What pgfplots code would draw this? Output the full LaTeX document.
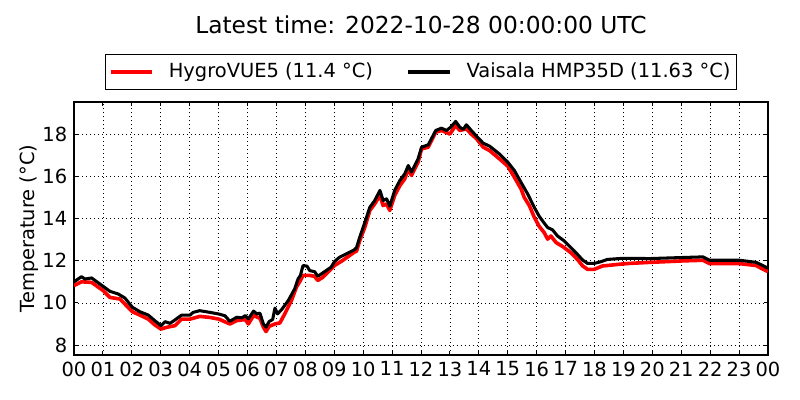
\documentclass[border=0pt]{standalone}
\usepackage{fontspec}
\setmainfont{DejaVu Sans}
\usepackage{pgfplots}
\pgfplotsset{compat=1.18}
\pgfplotstableread{
h T
0.00 10.82
0.26 11.00
0.61 10.97
1.01 10.58
1.24 10.26
1.59 10.18
2.02 9.58
2.28 9.42
2.57 9.23
2.80 8.95
3.01 8.76
3.20 8.84
3.49 8.92
3.72 9.23
4.01 9.23
4.35 9.36
4.70 9.31
5.01 9.23
5.39 9.00
5.62 9.16
5.92 9.21
6.03 9.00
6.21 9.40
6.43 9.27
6.55 8.85
6.64 8.64
6.75 8.89
6.95 9.00
7.12 9.05
7.29 9.48
7.52 10.11
7.69 10.74
7.83 11.06
7.92 11.30
8.15 11.30
8.32 11.26
8.43 11.06
8.61 11.22
8.78 11.45
9.01 11.77
9.29 12.01
9.69 12.40
9.77 12.45
9.88 12.95
10.06 13.59
10.23 14.38
10.40 14.69
10.58 15.09
10.69 14.61
10.81 14.69
10.92 14.38
11.09 15.09
11.27 15.56
11.44 15.88
11.56 16.35
11.67 16.04
11.90 16.67
12.02 17.30
12.25 17.38
12.51 18.09
12.71 18.17
13.00 18.00
13.20 18.41
13.34 18.17
13.57 18.25
13.74 18.00
13.92 17.78
14.15 17.38
14.37 17.22
14.71 16.83
15.00 16.48
15.23 15.95
15.46 15.40
15.57 15.00
15.75 14.60
15.92 14.05
16.09 13.62
16.26 13.33
16.38 13.02
16.49 13.17
16.67 12.86
16.90 12.67
17.18 12.38
17.41 12.06
17.59 11.75
17.76 11.59
17.99 11.59
18.28 11.75
18.51 11.78
18.85 11.83
19.20 11.87
19.91 11.92
21.06 11.99
21.75 12.02
21.98 11.86
23.02 11.86
23.59 11.77
23.82 11.60
24.00 11.48
}\hygro
\pgfplotstableread{
h T
0.00 11.00
0.26 11.24
0.38 11.13
0.61 11.18
1.01 10.78
1.24 10.55
1.53 10.42
1.76 10.23
2.02 9.79
2.28 9.58
2.57 9.42
2.80 9.15
3.01 8.92
3.15 9.11
3.32 9.03
3.49 9.19
3.72 9.42
4.01 9.42
4.12 9.55
4.35 9.63
4.70 9.55
5.01 9.47
5.22 9.39
5.39 9.13
5.63 9.32
5.81 9.29
5.92 9.40
6.03 9.24
6.21 9.61
6.32 9.48
6.43 9.51
6.55 9.00
6.64 8.85
6.75 9.12
6.87 9.21
6.95 9.75
7.04 9.48
7.18 9.68
7.41 10.11
7.63 10.66
7.75 11.14
7.83 11.30
7.92 11.77
8.06 11.74
8.15 11.53
8.32 11.48
8.43 11.26
8.55 11.37
8.72 11.53
8.89 11.69
9.01 11.96
9.18 12.16
9.41 12.32
9.69 12.51
9.77 12.62
9.88 13.11
10.06 13.82
10.23 14.53
10.40 14.85
10.58 15.33
10.69 14.85
10.81 14.93
10.92 14.58
11.09 15.33
11.27 15.80
11.44 16.12
11.56 16.51
11.67 16.20
11.90 16.83
12.02 17.38
12.25 17.49
12.51 18.17
12.71 18.28
12.88 18.17
13.03 18.33
13.20 18.60
13.34 18.33
13.46 18.22
13.57 18.44
13.74 18.17
13.92 17.90
14.15 17.57
14.37 17.43
14.71 17.06
15.00 16.67
15.23 16.27
15.46 15.71
15.69 15.16
15.92 14.52
16.09 14.10
16.26 13.78
16.38 13.57
16.55 13.46
16.72 13.17
16.95 12.94
17.18 12.62
17.41 12.30
17.59 12.03
17.76 11.87
17.99 11.87
18.22 11.95
18.45 12.06
18.97 12.11
19.91 12.10
21.06 12.15
21.75 12.18
21.98 12.02
22.21 12.02
23.02 12.02
23.59 11.92
23.82 11.77
24.00 11.64
}\vaisala
\begin{document}
\fontsize{14}{17}\selectfont
\begin{tikzpicture}[x=1pt,y=1pt]
\path[use as bounding box] (0,0) rectangle (576,288);
\begin{axis}[
  at={(53.28pt,32.4pt)}, anchor=south west,
  scale only axis, width=499.68pt, height=182.16pt,
  xmin=0, xmax=24, ymin=7.53, ymax=19.52,
  xtick={0,1,...,24},
  xticklabels={00,01,02,03,04,05,06,07,08,09,10,11,12,13,14,15,16,17,18,19,20,21,22,23,00},
  ytick={8,10,12,14,16,18},
  /pgf/number format/assume math mode=true,
  tick align=inside,
  major tick length=2.9pt,
  major tick style={black, line width=0.7pt},
  axis line style={black, line width=0.9pt},
  tick label style={font=\fontsize{14}{17}\selectfont},
  grid=major,
  major grid style={black, line width=0.5pt, dash pattern=on 0.7pt off 2.2pt},
  ylabel={Temperature (°C)},
  ylabel style={at={(axis description cs:-0.0562,0.5)}, anchor=base, font=\fontsize{14}{17}\selectfont},
  title={Latest time: 2022-10-28 00:00:00 UTC},
  title style={at={(axis description cs:0.5,1)}, anchor=base, yshift=43.2pt, font=\fontsize{16.8}{20}\selectfont},
  legend columns=2,
  legend style={at={(axis description cs:0.5,1)}, anchor=south, yshift=8.64pt,
    draw=black, line width=0.8pt, font=\fontsize{14}{17}\selectfont,
    inner xsep=2.5pt, inner ysep=4.2pt,
    /tikz/every odd column/.append style={column sep=8.5pt},
    /tikz/every even column/.append style={column sep=22pt}},
  legend image code/.code={\draw[#1, line width=2.8pt] (0pt,0pt) -- (30pt,0pt);},
  legend cell align=left,
]
\addplot[red, line width=2.6pt, line join=round] table[x=h,y=T] {\hygro};
\addlegendentry{HygroVUE5 (11.4 °C)}
\addplot[black, line width=2.2pt, line join=round] table[x=h,y=T] {\vaisala};
\addlegendentry{Vaisala HMP35D (11.63 °C)}
\end{axis}
\end{tikzpicture}
\end{document}
